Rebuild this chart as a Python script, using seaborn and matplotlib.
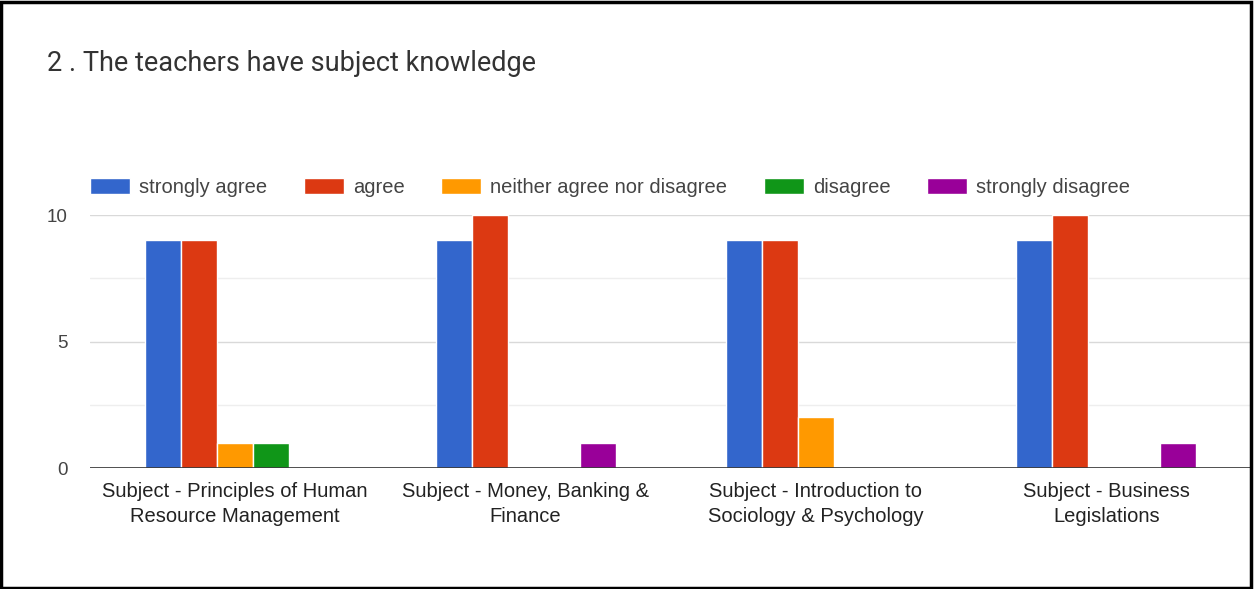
import pandas as pd
import matplotlib.pyplot as plt
import seaborn as sns
from matplotlib.patches import Rectangle

# datos
subjects = ['Subject - Principles of Human\nResource Management',
            'Subject - Money, Banking &\nFinance',
            'Subject - Introduction to\nSociology & Psychology',
            'Subject - Business\nLegislations']
responses = ['strongly agree', 'agree', 'neither agree nor disagree', 'disagree', 'strongly disagree']
strongly_agree = [9, 9, 9, 9]
agree = [9, 10, 9, 10]
neutral = [1, 0, 2, 0]
disagree = [1, 0, 0, 0]
strongly_disagree = [0, 1, 0, 1]
colores = ['#3366cc', '#dc3912', '#ff9900', '#109618', '#990099']

series = [strongly_agree, agree, neutral, disagree, strongly_disagree]
rows = []
for resp, vals in zip(responses, series):
    for subj, v in zip(subjects, vals):
        rows.append({'subject': subj, 'response': resp, 'count': v})
df = pd.DataFrame(rows)

sns.set_style('white')
plt.rcParams['font.family'] = ['Liberation Sans', 'DejaVu Sans']

fig = plt.figure(figsize=(12.54, 5.89), dpi=100)
ax = fig.add_axes([0.0718, 0.2054, 0.9262, 0.4295])

sns.barplot(data=df, x='subject', y='count', hue='response', hue_order=responses,
            palette=colores, width=0.62, edgecolor='white', linewidth=1,
            saturation=1, ax=ax, legend=True)

ax.set_ylim(0, 10)
ax.set_xlim(-0.5, 3.5)
ax.set_yticks([0, 5, 10])
ax.set_yticks([2.5, 7.5], minor=True)
ax.grid(axis='y', which='major', color='#d9d9d9', linewidth=1)
ax.grid(axis='y', which='minor', color='#eeeeee', linewidth=1)
ax.set_axisbelow(True)
ax.axhline(0, color='#333333', linewidth=1.2)
for s in ax.spines.values():
    s.set_visible(False)
ax.tick_params(axis='x', length=0, labelsize=14.5, colors='#222222', pad=10)
ax.tick_params(axis='y', length=0, labelsize=13.5, colors='#444444', pad=16)
for t in ax.get_xticklabels():
    t.set_linespacing(1.4)
ax.set_xlabel('')
ax.set_ylabel('')

handles, labels = ax.get_legend_handles_labels()
ax.legend(handles, labels, ncol=5, loc='lower left', bbox_to_anchor=(0.0, 1.07),
          frameon=False, fontsize=14.5, handlelength=2.0, handleheight=0.85,
          handletextpad=0.45, columnspacing=1.8, borderaxespad=0, borderpad=0,
          labelcolor='#444444')

fig.text(0.0375, 0.893, '2 . The teachers have subject knowledge', fontsize=19.5,
         family=['Roboto', 'DejaVu Sans'], color='#333333', va='center')

fig.patches.append(Rectangle((0.001, 0.002), 0.997, 0.995, transform=fig.transFigure,
                             fill=False, edgecolor='black', linewidth=2.5))

plt.savefig('out.png', dpi=100)
